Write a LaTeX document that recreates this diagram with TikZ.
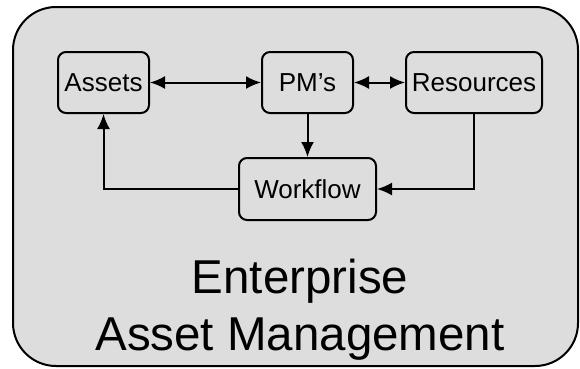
\documentclass[tikz,border=0pt]{standalone}
\usepackage{fontspec}
\setmainfont{Liberation Sans}
\usetikzlibrary{arrows.meta}
\definecolor{fondgris}{HTML}{DDDDDD}

\begin{document}
\begin{tikzpicture}[x=1pt,y=-1pt]
% Styles
\tikzstyle{fleche}=[->,>={Latex[length=15pt,width=13pt]},line width=2pt]
\tikzstyle{double}=[<->,>={Latex[length=15pt,width=13pt]},line width=2pt]
\tikzstyle{boite}=[draw,line width=2pt,rounded corners=8pt,inner sep=0pt,minimum height=61pt,font=\fontsize{26}{31}\selectfont]
\tikzstyle{cadre}=[draw,line width=2pt,fill=fondgris,rounded corners=43pt]
% Dimensions
\def\LigneHaut{82.5}
\def\LigneBas{189}
% Cadre
\useasboundingbox (0,0) rectangle (580,368);
\draw[cadre] (13,7) rectangle (578,366);
% Noeuds
\node[boite,minimum width=91pt] (A) at (103.5,{\LigneHaut}) {Assets};
\node[boite,minimum width=91pt] (P) at (307.5,{\LigneHaut}) {PM’s};
\node[boite,minimum width=136pt] (R) at (474,{\LigneHaut}) {Resources};
\node[boite,minimum width=137pt,minimum height=62pt] (W) at (307.5,{\LigneBas}) {Workflow};
\node[anchor=base,align=center,inner sep=0pt,font=\fontsize{47.5}{57}\selectfont] (T) at (300,350) {Enterprise\\Asset Management};
% Arcs
\draw[double] (A)--(P);
\draw[double] (P)--(R);
\draw[fleche] (P)--(W);
\draw[fleche] (R.south)|-(W.east);
\draw[fleche] (W.west)-|(A.south);
\end{tikzpicture}
\end{document}
